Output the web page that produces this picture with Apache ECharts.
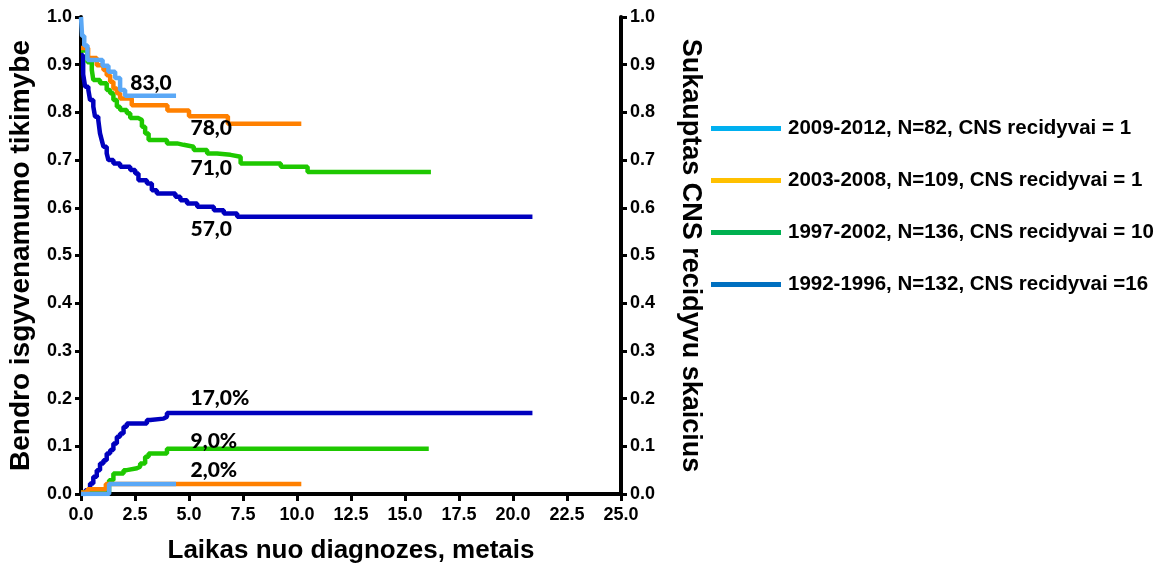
<!DOCTYPE html>
<html>
<head>
<meta charset="utf-8">
<script src="https://cdn.jsdelivr.net/npm/echarts@6.0.0/dist/echarts.min.js"></script>
<style>
  html, body { margin: 0; padding: 0; background: #fff; }
  #chart { width: 1164px; height: 572px; }
</style>
</head>
<body>
<div id="chart"></div>
<script>
  // survival (Kaplan-Meier) curves, [years, probability]
  const surv2009 = [[0, 1.0], [0.05, 0.96], [0.15, 0.94], [0.3, 0.91], [1.0, 0.898], [1.27, 0.885], [1.58, 0.872], [1.81, 0.847], [2.04, 0.835], [4.4, 0.835]];
  const surv2003 = [[0, 0.935], [0.33, 0.914], [0.73, 0.899], [1.04, 0.889], [1.19, 0.878], [1.35, 0.864], [1.5, 0.85], [1.66, 0.84], [1.81, 0.829], [2.35, 0.815], [4.0, 0.804], [5.0, 0.792], [6.8, 0.776], [10.2, 0.776]];
  const surv1997 = [[0, 0.93], [0.3, 0.905], [0.5, 0.889], [0.57, 0.868], [0.88, 0.861], [1.19, 0.847], [1.35, 0.84], [1.5, 0.826], [1.66, 0.812], [1.81, 0.805], [2.12, 0.798], [2.28, 0.788], [2.66, 0.784], [2.82, 0.77], [2.97, 0.756], [3.13, 0.742], [3.98, 0.735], [4.45, 0.732], [4.75, 0.728], [5.22, 0.721], [5.84, 0.714], [6.3, 0.711], [6.92, 0.707], [7.39, 0.693], [9.25, 0.686], [10.49, 0.675], [16.2, 0.675]];
  const surv1992 = [[0, 0.92], [0.1, 0.88], [0.19, 0.854], [0.34, 0.847], [0.42, 0.826], [0.57, 0.812], [0.65, 0.791], [0.8, 0.784], [0.88, 0.756], [0.96, 0.742], [1.04, 0.728], [1.19, 0.714], [1.27, 0.7], [1.5, 0.693], [1.81, 0.686], [2.28, 0.679], [2.51, 0.672], [2.66, 0.658], [3.05, 0.651], [3.28, 0.637], [3.51, 0.63], [4.37, 0.623], [4.6, 0.616], [4.91, 0.609], [5.38, 0.602], [6.15, 0.595], [6.61, 0.588], [7.23, 0.581], [20.9, 0.581]];

  // cumulative CNS relapse curves
  const cns2009 = [[0, 0.0], [1.3, 0.021], [4.4, 0.021]];
  const cns2003 = [[0, 0.003], [0.3, 0.01], [1.15, 0.021], [10.2, 0.021]];
  const cns1997 = [[0, 0.003], [1.3, 0.029], [1.5, 0.043], [1.97, 0.05], [2.12, 0.054], [2.59, 0.057], [2.74, 0.064], [2.97, 0.078], [3.13, 0.085], [3.98, 0.095], [16.1, 0.095]];
  const cns1992 = [[0, 0.0], [0.2, 0.008], [0.42, 0.022], [0.57, 0.036], [0.73, 0.05], [0.88, 0.064], [1.04, 0.071], [1.19, 0.085], [1.35, 0.092], [1.5, 0.106], [1.66, 0.12], [1.81, 0.127], [1.97, 0.141], [2.12, 0.148], [3.05, 0.155], [3.21, 0.158], [3.82, 0.162], [3.98, 0.17], [20.9, 0.17]];

  const legendNames = [
    '2009-2012, N=82, CNS recidyvai = 1',
    '2003-2008, N=109, CNS recidyvai = 1',
    '1997-2002, N=136, CNS recidyvai = 10',
    '1992-1996, N=132, CNS recidyvai =16',
  ];
  // annotation texts and their anchor (years, value)
  const noteTexts = ['83,0', '78,0', '71,0', '57,0', '17,0%', '9,0%', '2,0%'];
  const noteAnchors = [[2.28, 0.862], [5.07, 0.767], [5.07, 0.683], [5.07, 0.556], [5.07, 0.201], [5.07, 0.111], [5.07, 0.05]];

  const lineColors = ['#5aa8f6', '#ff8000', '#1ec800', '#0000be'];
  const legendColors = ['#00b0f0', '#ffc000', '#00b050', '#0070c0'];

  const axisFont = { fontFamily: 'Liberation Sans', fontWeight: 'bold', color: '#000' };

  const stepLine = (data, color) => ({
    type: 'line',
    step: 'end',
    symbol: 'none',
    silent: true,
    data,
    lineStyle: { color, width: 4.5 },
    z: 3,
  });

  const chart = echarts.init(document.getElementById('chart'));
  const option = {
    animation: false,
    grid: { left: 81, right: 543, top: 17, bottom: 78 },
    legend: {
      data: legendNames,
      orient: 'vertical',
      left: 706,
      top: 113,
      icon: 'rect',
      itemWidth: 70,
      itemHeight: 5,
      itemGap: 31,
      selectedMode: false,
      textStyle: { ...axisFont, fontSize: 20.5, lineHeight: 21, padding: [0, 0, 0, 2] },
    },
    xAxis: {
      type: 'value',
      min: 0,
      max: 25,
      interval: 2.5,
      name: 'Laikas nuo diagnozes, metais',
      nameLocation: 'middle',
      nameGap: 44,
      nameTextStyle: { ...axisFont, fontSize: 26 },
      axisLine: { lineStyle: { color: '#000', width: 4 } },
      axisTick: { length: 7, lineStyle: { width: 3 } },
      axisLabel: { ...axisFont, fontSize: 18, margin: 12, formatter: (v) => v.toFixed(1) },
      splitLine: { show: false },
    },
    yAxis: [
      {
        type: 'value',
        min: 0,
        max: 1,
        interval: 0.1,
        name: 'Bendro isgyvenamumo tikimybe',
        nameLocation: 'middle',
        nameGap: 46,
        nameTextStyle: { ...axisFont, fontSize: 28 },
        axisLine: { show: true, lineStyle: { color: '#000', width: 4 } },
        axisTick: { show: true, length: 6, lineStyle: { width: 3 } },
        axisLabel: { ...axisFont, fontSize: 18, margin: 9, formatter: (v) => v.toFixed(1) },
        splitLine: { show: false },
      },
      {
        type: 'value',
        position: 'right',
        min: 0,
        max: 1,
        interval: 0.1,
        name: 'Sukauptas CNS recidyvu skaicius',
        nameLocation: 'middle',
        nameRotate: -90,
        nameGap: 56,
        nameTextStyle: { ...axisFont, fontSize: 27 },
        axisLine: { show: true, lineStyle: { color: '#000', width: 4 } },
        axisTick: { show: true, length: 6, lineStyle: { width: 3 } },
        axisLabel: { ...axisFont, fontSize: 18, margin: 9, formatter: (v) => v.toFixed(1) },
        splitLine: { show: false },
      },
    ],
    graphic: [
      { type: 'text', left: 52, top: 250, style: { text: '`', font: '12px Liberation Sans', fill: '#000' } },
    ],
    series: [
      // legend-only entries (legend colours differ from the curve colours)
      ...legendNames.map((name, i) => ({ name, type: 'line', data: [], color: legendColors[i] })),
      stepLine(surv1992, lineColors[3]),
      stepLine(surv1997, lineColors[2]),
      stepLine(surv2003, lineColors[1]),
      stepLine(surv2009, lineColors[0]),
      stepLine(cns1992, lineColors[3]),
      stepLine(cns1997, lineColors[2]),
      stepLine(cns2003, lineColors[1]),
      stepLine(cns2009, lineColors[0]),
      {
        type: 'scatter',
        silent: true,
        symbolSize: 0,
        itemStyle: { opacity: 1 },
        data: noteTexts.map((t, i) => ({ name: t, value: noteAnchors[i] })),
        label: {
          show: true,
          position: 'right',
          distance: 0,
          formatter: '{b}',
          fontFamily: 'Lato',
          fontWeight: 900,
          fontSize: 21,
          color: '#000',
        },
        z: 5,
      },
    ],
  };
  chart.setOption(option);
</script>
</body>
</html>
